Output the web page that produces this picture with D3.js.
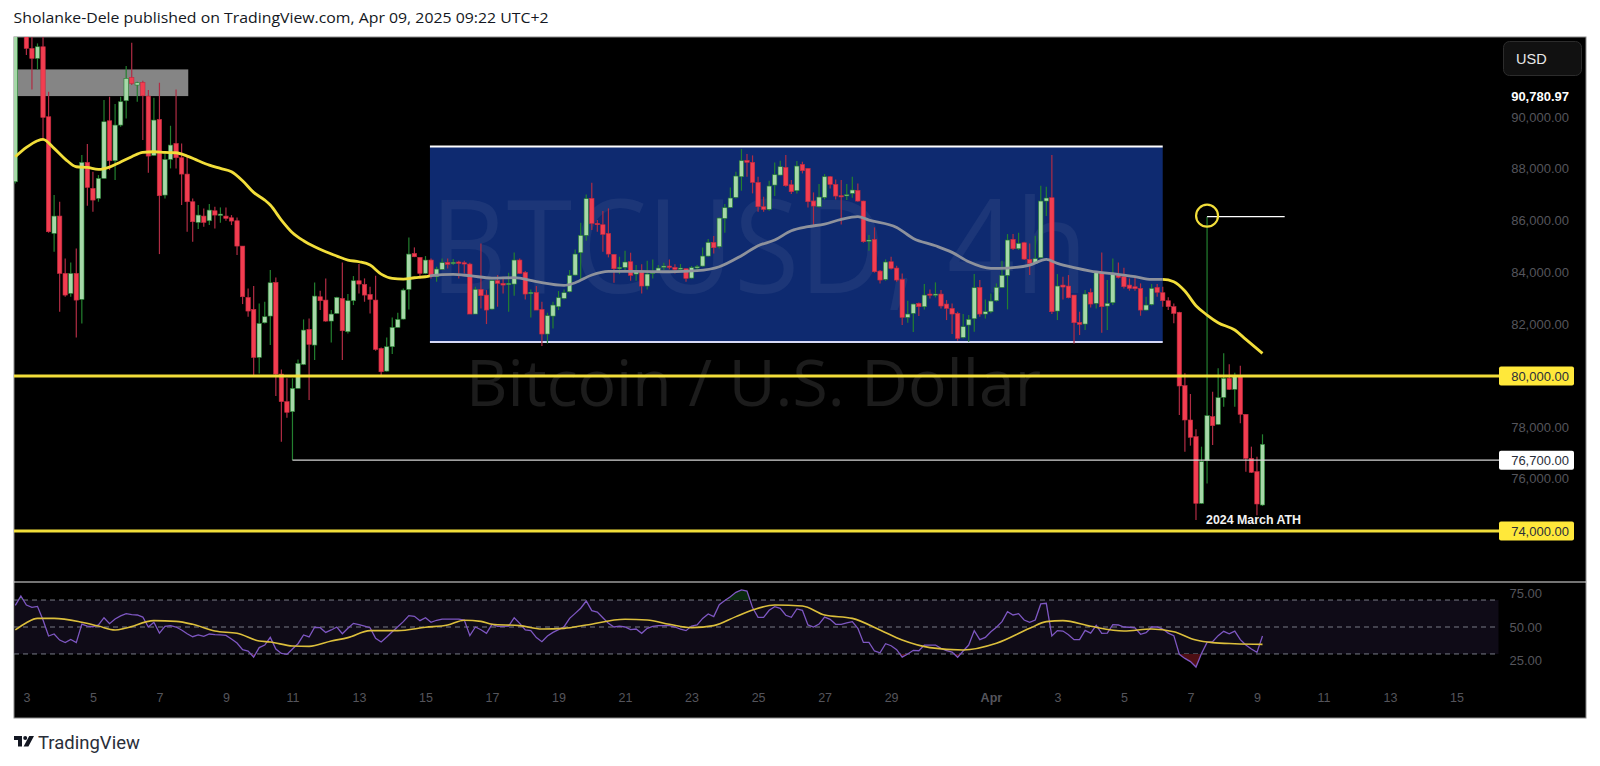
<!DOCTYPE html>
<html>
<head>
<meta charset="utf-8">
<title>BTCUSD 4h</title>
<script src="https://cdn.jsdelivr.net/npm/d3@7"></script>
<style>
  html, body { margin: 0; padding: 0; background: #fff; }
  svg { display: block; }
</style>
</head>
<body>
<div id="chart"></div>
<script>
// Candle values, 4h bars. The first bar is index -2.
const firstIndex = -2;
const opens = [
  87500,95000,94000,92648,92262,92712,90010,85505,86175,83961,
  83189,83961,82957,88247,87243,86857,87629,89855,88311,89688,
  90628,91528,91232,91335,90808,88517,89907,86985,88362,88980,
  88427,87796,86728,85930,86175,85994,86380,86200,86175,86110,
  85994,85016,83034,82571,80718,82056,82314,83614,80074,78994,
  78602,79516,80447,81799,81194,83060,82931,82121,82416,82996,
  81709,82906,83678,83536,83150,82931,81065,80190,81130,81876,
  82198,83343,84733,84580,83961,84477,83833,84116,84387,84348,
  84400,84374,84322,82392,83344,83125,82585,83679,83576,83537,
  83550,84477,84001,83190,83228,82572,81620,82314,82675,82997,
  83254,83898,84760,85429,86858,85892,85841,85506,84695,84142,
  84194,84412,83936,84052,83473,83962,84039,84219,84245,84194,
  84142,84142,83782,84194,84245,84631,85159,84992,86085,86510,
  86896,87694,88325,88248,87475,86536,86433,87372,87759,88055,
  87385,87154,88170,88016,86755,86536,86896,87694,87398,86961,
  86961,87051,87167,86755,85210,85275,84052,83730,84412,84168,
  83730,82263,82418,82804,82675,83164,83138,83164,82778,82611,
  82418,81491,81967,82212,83421,82392,82482,82907,83421,83885,
  85275,84914,85146,84502,84348,84567,86755,86883,82508,83511,
  83473,83125,82070,82006,83228,82804,83988,82701,82829,83923,
  83833,83511,83447,83383,82546,82765,83421,83216,82907,82676,
  82457,79621,78275,77621,75045,76680,78405,78105,79164,79909,
  79477,79974,78497,76772,76249,74981
];
const highs = [
  95500,96000,94500,94000,92841,93500,90975,86985,86728,84540,
  84386,84926,88530,88954,87886,87758,90653,90782,90499,90782,
  91966,92867,91361,91400,91039,90743,91323,88659,89662,91065,
  88980,88465,86857,86599,86470,86638,86535,86509,86509,86213,
  86123,85016,83382,83472,82803,82867,84090,83807,80255,79908,
  79908,80640,82185,82224,83614,83292,83768,82545,83060,84386,
  83163,83858,84321,83768,83446,83871,81104,81490,82262,82442,
  83382,85351,84965,84580,84630,84541,84219,84541,84541,84515,
  84451,84451,84374,83447,85120,83318,83730,83898,83833,83988,
  84773,84541,84052,83344,83473,82868,82443,82868,83280,83344,
  84091,84888,85918,87012,87463,86021,86369,86472,84708,84605,
  84837,84760,84284,84310,84451,84502,84284,84374,84502,84310,
  84322,84142,84245,84284,84966,85288,85403,86124,86639,87282,
  87887,88762,88569,88518,87694,86922,87540,88248,88312,88531,
  87565,88299,88273,88016,87089,87411,87797,87720,87591,87565,
  87411,87694,87437,86768,85442,85738,84091,84502,84605,84258,
  83962,82907,82804,82842,83550,83344,83615,83318,82932,82804,
  82482,82392,82353,83936,83705,82958,83190,83576,84451,85481,
  85481,85532,85185,85120,85416,87347,87308,88531,83936,83833,
  83898,83125,82482,83318,83383,84026,84773,83705,84541,84387,
  84181,83769,83833,83576,83061,83550,83550,83448,83036,82804,
  82483,80102,79294,77909,77229,86150,79386,80295,80874,80449,
  80127,80397,78497,77229,76837,77713
];
const lows = [
  87436,93500,92391,91065,91837,89173,85531,84797,82481,83060,
  83060,81490,82030,86574,86342,86728,87629,87951,87565,89624,
  89945,91232,90589,89109,87848,88491,84707,86857,88015,88015,
  86599,85570,85184,85673,85763,85827,85698,85917,85994,85827,
  84669,82777,82288,80036,80100,82030,81194,79215,77425,78366,
  76700,79516,80422,79059,80615,82545,82095,81297,82391,80615,
  81644,82738,83189,82867,82416,80975,79970,80164,80846,81876,
  82185,82571,84590,83768,83935,83769,83640,84091,84155,84284,
  83769,83962,82392,82392,82611,82006,82546,82675,83190,82482,
  83100,83936,82958,82263,82546,81156,81259,81838,82546,82958,
  83228,83872,83730,85223,85635,85571,84798,84580,83602,83936,
  84091,83679,83679,83190,83344,83769,83988,84091,84116,83962,
  84026,83640,83756,84091,84219,84605,84734,84927,85532,86484,
  86858,87154,87694,87051,86343,86343,86381,86948,87746,87308,
  87025,87051,87823,86510,85828,86510,86819,87244,86819,85854,
  86793,86883,86729,85146,84837,83988,83576,83679,84116,83640,
  81967,82057,81697,82314,82572,82997,83035,82611,82160,81620,
  81362,81452,81324,81710,82289,82224,82418,82868,83396,82572,
  84863,84863,84477,83898,84322,84541,86176,82392,82160,82958,
  82997,81259,81581,81774,82649,82611,81671,81774,82739,83769,
  83383,83293,83293,82327,82520,82726,83061,82676,82547,82032,
  78471,77033,77268,74415,75019,75791,77295,78080,78798,79450,
  78798,78144,76249,76197,74592,74943
];
const closes = [
  95000,94500,92648,92262,92712,89984,85570,86175,83961,83124,
  83961,82931,88247,87281,86792,87629,89817,88311,89688,90589,
  91490,91297,91323,90821,88491,89881,86960,88362,88916,88427,
  87796,86728,85956,86213,85930,86406,86213,86252,86085,85981,
  85016,83060,82507,80718,82030,82288,83600,80074,78994,78575,
  79516,80486,81773,81220,83086,82906,82121,82391,83034,81747,
  82906,83678,83549,83124,82957,81027,80164,81130,81876,82185,
  83317,84707,84604,83961,84476,83833,84129,84374,84310,84387,
  84348,84322,82392,83344,83100,82546,83679,83576,83511,83576,
  84477,83962,83164,83228,82546,81620,82327,82739,83022,83215,
  83885,84708,85429,86845,85892,85841,85468,84708,84142,84194,
  84400,83885,84026,83473,83936,84026,84168,84245,84194,84116,
  84168,83769,84181,84219,84631,85159,84953,86098,86497,86871,
  87720,88312,88248,87475,86536,86433,87334,87771,88080,87347,
  87115,88106,87926,86729,86562,86909,87694,87398,86948,86935,
  86999,87180,86755,85185,85249,84026,83705,84400,84155,83705,
  82263,82392,82778,82675,83125,83138,83164,82701,82611,82392,
  81452,81903,82186,83408,82392,82482,82894,83421,83885,85249,
  84914,85120,84515,84348,84528,86755,86871,82482,83473,83434,
  83022,82057,81993,83164,82778,83988,82675,82804,83962,83807,
  83447,83383,83370,82546,82739,83383,83228,82907,82676,82418,
  79608,78275,77595,75045,76641,78445,78053,79150,79909,79477,
  79974,78497,76772,76223,75019,77321
];

// 50 period moving average, read at the bars where it bends.
const maIndex = [-2,0,2,3,5,7,9,11,13,15,17,19,21,23,25,27,29,31,33,35,37,39,41,43,44,46,48,50,52,54,56,58,60,62,64,66,68,70,72,
  73,77,80,84,88,92,97,99,102,105,110,116,121,125,129,132,135,138,141,144,147,150,152,157,160,164,167,170,174,177,181,184,186,189,192,196,200,203,
  205,207,209,211,213,215,218,220,223];
const maValue = [88465,88826,89083,89135,88787,88375,88079,88054,87976,88067,88260,88465,88633,88659,88633,88620,88491,88311,88144,88015,87886,87539,87088,86792,86599,86020,85531,85222,84990,84797,84630,84476,84411,84283,83935,83768,83742,83794,83832,
  83872,83923,83872,83782,83795,83640,83499,83602,83898,84039,84039,84026,84065,84219,84644,85030,85249,85609,85764,85867,86047,86150,86021,85738,85313,85030,84773,84412,84155,84168,84284,84502,84348,84181,84052,83949,83833,83730,
  83731,83641,83280,82714,82354,82058,81775,81414,80874];

// RSI, one value per bar starting at the same first bar.
const rsiValue = [
  66,73,66.3,64.6,65.3,55.2,43.3,44.8,40.3,38.4,
  40.8,38.4,52.2,50.7,50.2,51.5,56.9,52.5,55.9,58.2,
  59.9,59.2,58.9,57.4,50,53.5,45.5,50.5,51,50,
  47.8,45,42.8,44.1,43.1,44.8,44.3,44.1,43.8,41.1,
  38.1,33.2,32.2,27.7,34.7,36.6,42.3,33.7,30.4,29.7,
  33.7,37.6,44.1,42.6,49.8,49.5,46,47.8,50,45,
  49,52.7,51.7,50.7,49.5,41.6,38.9,42.6,46.5,50.2,
  54,58.4,57.9,54.7,56.9,53.5,55,55.9,55.9,55.9,
  55.9,55.2,43.6,50,48,45.3,52,50.5,50.5,50.7,
  56.9,52.7,47.8,47.3,42.1,39.1,43.3,46,48,50.2,
  56.4,60.1,63.9,69.3,62.1,61.1,56.9,52.7,50,50.7,
  50,48,48.5,45.3,49,50.5,51,51,51,50,
  48.5,47.3,50.7,51.5,56.4,59.7,57.7,66.6,69.6,72.5,
  75.7,77.5,76.7,64.4,57.2,57.2,62.4,65.1,63.9,58.7,
  57.2,63.4,62.4,51.5,50,52.2,57.4,55.7,52,52,
  53,54,49,38.6,38.6,32.2,30.9,37.6,36.1,33.2,
  27.7,30,32.7,32.4,36.6,36.6,36.6,34.2,32.4,31.4,
  27.5,32.2,36.6,47.3,40.6,42.3,46.5,49.8,54,61.4,
  58.9,59.9,55.2,53.5,55.2,67.1,67.6,43.3,47.3,47,
  44.3,40.6,40.6,47.5,45.5,51.2,45.3,45.5,51.7,51.5,
  50,49.8,49.3,44.6,45.8,50,50,48.5,45.5,43.6,
  29.7,26.7,24.3,20.3,30.4,38.6,39.1,43.6,46.8,45,
  47,40.6,36.6,33.7,31.2,43.3
];
const rsiMaIndex = [-2,0,2,5,10,13,16,18,23,27,30,34,38,42,44,48,51,55,58,62,67,72,76,79,82,84,89,93,97,101,108,112,116,120,124,128,131,135,140,144,149,154,158,163,169,175,181,184,187,192,198,203,207,211,214,218,223];
const rsiMaValue = [47.8,53.2,56.4,56.4,53.5,50.7,47.8,49.3,54.7,54.2,52,47,45.3,39.6,38.9,35.9,35.6,39.6,42.1,47.3,47.3,49.8,51.5,55,54.2,52,51,48.5,49,51.5,55.7,55.2,52,49.5,51,57.7,62.6,66.3,65.6,58.9,56.4,47.8,40.3,34.7,32.9,37.9,49,54,54.7,50.5,47,48.5,46.5,40.3,38.4,37.6,37.1];

// Axis labels
const priceTicks = [90000,88000,86000,84000,82000,78000,76000];
const rsiTicks = [75,50,25];
const timeTicks = [0,12,24,36,48,60,72,84,96,108,120,132,144,156,174,186,198,210,222,234,246,258];
const timeLabels = ["3","5","7","9","11","13","15","17","19","21","23","25","27","29","Apr","3","5","7","9","11","13","15"];

// Drawn levels and zones
const supportLevels = [80000, 74000];
const lowLevel = { price: 76700, start: 48 };
const highLevel = { price: 86150, start: 213, end: 227 };
const blueBox = { start: 72.8, end: 205, top: 88860, bottom: 81311 };
const greyBox = { start: -1.7, end: 29.2, top: 91837, bottom: 90808 };
const lastPrice = 90780.97;

const width = 1600;
const height = 766;
const frameLeft = 14;
const frameRight = 1586;
const frameTop = 37;
const frameBottom = 718;
const paneSplit = 582;
const scaleEdge = 1498;

const candleColors = {
    upFill: "#a6d8a8", upLine: "#23802f",
    downFill: "#f23d50", downLine: "#c42a40", downWick: "#b02c44"
};
const levelYellow = "#f2de3a";

const x = d3.scaleLinear().domain([0, 258]).range([26.4, 1456.5]);
const y = d3.scaleLinear().domain([90000, 80000, 76000, 74000]).range([117, 376, 478, 531]);
const yRsi = d3.scaleLinear().domain([75, 25]).range([593.3, 660.7]);
const fmtPrice = d3.format(",.2f");

const candles = opens.map((o, k) => ({
    i: firstIndex + k, open: o, high: highs[k], low: lows[k], close: closes[k]
}));

const svg = d3.select("#chart").append("svg")
    .attr("width", width)
    .attr("height", height)
    .style("font-family", "'Liberation Sans', sans-serif");

// Publisher line on the white page
svg.append("text")
    .attr("x", 13.5).attr("y", 23)
    .attr("font-family", "'Open Sans', sans-serif")
    .attr("font-size", 15)
    .attr("textLength", 535).attr("lengthAdjust", "spacingAndGlyphs")
    .attr("fill", "#131722")
    .text("Sholanke-Dele published on TradingView.com, Apr 09, 2025 09:22 UTC+2");

// Black chart frame
svg.append("rect")
    .attr("x", frameLeft).attr("y", frameTop)
    .attr("width", frameRight - frameLeft).attr("height", frameBottom - frameTop)
    .attr("fill", "#000").attr("stroke", "#8a8a8a");

const defs = svg.append("defs");
defs.append("clipPath").attr("id", "mainClip").append("rect")
    .attr("x", frameLeft).attr("y", frameTop)
    .attr("width", frameRight - frameLeft).attr("height", paneSplit - frameTop);
defs.append("clipPath").attr("id", "insideBox").append("rect")
    .attr("x", x(blueBox.start)).attr("y", frameTop)
    .attr("width", x(blueBox.end) - x(blueBox.start)).attr("height", paneSplit - frameTop);
const outside = defs.append("clipPath").attr("id", "outsideBox");
outside.append("rect")
    .attr("x", frameLeft).attr("y", frameTop)
    .attr("width", x(blueBox.start) - frameLeft).attr("height", paneSplit - frameTop);
outside.append("rect")
    .attr("x", x(blueBox.end)).attr("y", frameTop)
    .attr("width", frameRight - x(blueBox.end)).attr("height", paneSplit - frameTop);
defs.append("clipPath").attr("id", "paneClip").append("rect")
    .attr("x", frameLeft).attr("width", frameRight - frameLeft)
    .attr("y", paneSplit).attr("height", frameBottom - paneSplit);
defs.append("clipPath").attr("id", "overClip").append("rect")
    .attr("x", frameLeft).attr("width", frameRight - frameLeft)
    .attr("y", yRsi(75) - 30).attr("height", yRsi(70) - yRsi(75) + 30);
defs.append("clipPath").attr("id", "underClip").append("rect")
    .attr("x", frameLeft).attr("width", frameRight - frameLeft)
    .attr("y", yRsi(30)).attr("height", 40);

const main = svg.append("g").attr("clip-path", "url(#mainClip)");

// Blue range box with white edges
main.append("rect")
    .attr("x", x(blueBox.start)).attr("y", y(blueBox.top))
    .attr("width", x(blueBox.end) - x(blueBox.start))
    .attr("height", y(blueBox.bottom) - y(blueBox.top))
    .attr("fill", "#0e2a70");
main.selectAll("line.boxEdge")
    .data([blueBox.top, blueBox.bottom])
    .enter().append("line")
    .attr("class", "boxEdge")
    .attr("x1", x(blueBox.start)).attr("x2", x(blueBox.end))
    .attr("y1", d => y(d)).attr("y2", d => y(d))
    .attr("stroke", (d, k) => k === 0 ? "#fff" : "#d5d8f5")
    .attr("stroke-width", 2);

// Grey supply zone top left
main.append("rect")
    .attr("x", x(greyBox.start)).attr("y", y(greyBox.top))
    .attr("width", x(greyBox.end) - x(greyBox.start))
    .attr("height", y(greyBox.bottom) - y(greyBox.top))
    .attr("fill", "#858585");

// Watermark
main.append("text")
    .attr("x", 430).attr("y", 293)
    .attr("font-family", "'Open Sans', sans-serif")
    .attr("font-size", 130)
    .attr("textLength", 658).attr("lengthAdjust", "spacingAndGlyphs")
    .attr("fill", "rgba(255,255,255,0.06)")
    .text("BTCUSD, 4h");
main.append("text")
    .attr("x", 466).attr("y", 406)
    .attr("font-family", "'Open Sans', sans-serif")
    .attr("font-size", 64)
    .attr("textLength", 575).attr("lengthAdjust", "spacingAndGlyphs")
    .attr("fill", "rgba(255,255,255,0.11)")
    .text("Bitcoin / U.S. Dollar");

// Candles
const candle = main.selectAll("g.candle")
    .data(candles)
    .enter().append("g")
    .attr("class", "candle");
candle.append("line")
    .attr("x1", d => x(d.i)).attr("x2", d => x(d.i))
    .attr("y1", d => y(d.high)).attr("y2", d => y(d.low))
    .attr("stroke", d => d.close >= d.open ? candleColors.upLine : candleColors.downWick)
    .attr("stroke-width", 1.2);
candle.append("rect")
    .attr("x", d => x(d.i) - 2.2)
    .attr("width", 4.4)
    .attr("y", d => y(Math.max(d.open, d.close)))
    .attr("height", d => Math.max(1.2, Math.abs(y(d.open) - y(d.close))))
    .attr("fill", d => d.close >= d.open ? candleColors.upFill : candleColors.downFill)
    .attr("stroke", d => d.close >= d.open ? candleColors.upLine : candleColors.downLine)
    .attr("stroke-width", 0.6);

// Moving average: yellow outside the box, grey through it
const maLine = d3.line()
    .x((d, k) => x(maIndex[k]))
    .y(d => y(d))
    .curve(d3.curveMonotoneX);
main.append("path").datum(maValue)
    .attr("d", maLine).attr("fill", "none")
    .attr("stroke", levelYellow).attr("stroke-width", 2.8)
    .attr("clip-path", "url(#outsideBox)");
main.append("path").datum(maValue)
    .attr("d", maLine).attr("fill", "none")
    .attr("stroke", "#8e929c").attr("stroke-width", 2.8)
    .attr("clip-path", "url(#insideBox)");

// Horizontal levels
main.selectAll("line.support")
    .data(supportLevels)
    .enter().append("line")
    .attr("class", "support")
    .attr("x1", frameLeft).attr("x2", 1499)
    .attr("y1", d => y(d)).attr("y2", d => y(d))
    .attr("stroke", levelYellow).attr("stroke-width", 2.8);
main.append("line")
    .attr("x1", x(lowLevel.start)).attr("x2", 1499)
    .attr("y1", y(lowLevel.price)).attr("y2", y(lowLevel.price))
    .attr("stroke", "#d4d4d4").attr("stroke-width", 1.2);
main.append("line")
    .attr("x1", x(highLevel.start)).attr("x2", x(highLevel.end))
    .attr("y1", y(highLevel.price)).attr("y2", y(highLevel.price))
    .attr("stroke", "#fff").attr("stroke-width", 1.2);
main.append("circle")
    .attr("cx", x(highLevel.start)).attr("cy", y(highLevel.price) - 1)
    .attr("r", 11)
    .attr("fill", "none").attr("stroke", levelYellow).attr("stroke-width", 2.2);
main.append("text")
    .attr("x", 1206).attr("y", 524)
    .attr("font-size", 12.5).attr("font-weight", 700)
    .attr("textLength", 95).attr("lengthAdjust", "spacingAndGlyphs")
    .attr("fill", "#f2f2f2")
    .text("2024 March ATH");

// Price axis
const yAxis = svg.append("g")
    .attr("transform", "translate(1569,0)")
    .call(d3.axisRight(y).tickValues(priceTicks).tickFormat(fmtPrice).tickSize(0).tickPadding(0));
yAxis.select(".domain").remove();
yAxis.selectAll("text")
    .attr("text-anchor", "end")
    .attr("font-size", 13)
    .attr("font-family", "'Liberation Sans', sans-serif")
    .attr("fill", "#55555c");

// Level tags on the price axis
const tags = [
    { price: 80000, fill: "#ffe83a" },
    { price: 76700, fill: "#ffffff" },
    { price: 74000, fill: "#ffe83a" }
];
const tag = svg.selectAll("g.tag").data(tags).enter().append("g").attr("class", "tag");
tag.append("rect")
    .attr("x", 1499).attr("width", 75)
    .attr("y", d => y(d.price) - 9.5).attr("height", 19)
    .attr("rx", 2)
    .attr("fill", d => d.fill);
tag.append("text")
    .attr("x", 1569).attr("y", d => y(d.price) + 4.5)
    .attr("text-anchor", "end")
    .attr("font-size", 13)
    .attr("fill", "#2a2e39")
    .text(d => fmtPrice(d.price));

// Currency button and last price
svg.append("rect")
    .attr("x", 1503.5).attr("y", 41.5).attr("width", 78).attr("height", 34)
    .attr("rx", 6)
    .attr("fill", "#111").attr("stroke", "#2c2c2c");
svg.append("text")
    .attr("x", 1516).attr("y", 63.5)
    .attr("font-size", 14.5)
    .attr("fill", "#e8e8e8")
    .text("USD");
svg.append("text")
    .attr("x", 1569).attr("y", y(lastPrice) + 4.5)
    .attr("text-anchor", "end")
    .attr("font-size", 13).attr("font-weight", 700)
    .attr("fill", "#fff")
    .text(fmtPrice(lastPrice));

// Split between the panes
svg.append("line")
    .attr("x1", frameLeft).attr("x2", frameRight)
    .attr("y1", paneSplit).attr("y2", paneSplit)
    .attr("stroke", "#e8e8e8");

// RSI pane
svg.append("rect")
    .attr("x", frameLeft + 0.5).attr("width", scaleEdge - frameLeft)
    .attr("y", yRsi(70)).attr("height", yRsi(30) - yRsi(70))
    .attr("fill", "#0f0b17");
svg.selectAll("line.rsiGuide")
    .data([70, 50, 30])
    .enter().append("line")
    .attr("class", "rsiGuide")
    .attr("x1", frameLeft).attr("x2", scaleEdge)
    .attr("y1", d => yRsi(d)).attr("y2", d => yRsi(d))
    .attr("stroke", "#787b86")
    .attr("stroke-dasharray", "5 4");

// Overbought and oversold fill
const rsiPoints = rsiValue.map((v, k) => ({ i: firstIndex + k, v: v }));
svg.append("path").datum(rsiPoints)
    .attr("d", d3.area().x(d => x(d.i)).y0(yRsi(70)).y1(d => yRsi(d.v)))
    .attr("fill", "#0a2a10").attr("clip-path", "url(#overClip)");
svg.append("path").datum(rsiPoints)
    .attr("d", d3.area().x(d => x(d.i)).y0(yRsi(30)).y1(d => yRsi(d.v)))
    .attr("fill", "#4e0f14").attr("clip-path", "url(#underClip)");

svg.append("path").datum(rsiPoints)
    .attr("d", d3.line().x(d => x(d.i)).y(d => yRsi(d.v)))
    .attr("fill", "none").attr("stroke", "#7e57c2").attr("stroke-width", 1.3)
    .attr("clip-path", "url(#paneClip)");
svg.append("path").datum(rsiMaValue)
    .attr("d", d3.line()
        .x((d, k) => x(rsiMaIndex[k]))
        .y(d => yRsi(d))
        .curve(d3.curveMonotoneX))
    .attr("fill", "none").attr("stroke", "#dcbf3c").attr("stroke-width", 1.6)
    .attr("clip-path", "url(#paneClip)");

const rsiAxis = svg.append("g")
    .attr("transform", "translate(1542,0)")
    .call(d3.axisRight(yRsi).tickValues(rsiTicks).tickFormat(d3.format(".2f")).tickSize(0).tickPadding(0));
rsiAxis.select(".domain").remove();
rsiAxis.selectAll("text")
    .attr("text-anchor", "end")
    .attr("font-size", 13)
    .attr("font-family", "'Liberation Sans', sans-serif")
    .attr("fill", "#55555c");

// Time axis
const xAxis = svg.append("g")
    .attr("transform", "translate(0,693)")
    .call(d3.axisBottom(x).tickValues(timeTicks)
        .tickFormat((d, k) => timeLabels[k]).tickSize(0).tickPadding(0));
xAxis.select(".domain").remove();
xAxis.selectAll("text")
    .attr("font-size", 12.5)
    .attr("font-family", "'Liberation Sans', sans-serif")
    .attr("font-weight", d => d === 174 ? 700 : 400)
    .attr("fill", "#55555c");

// TradingView mark at the bottom
const logo = svg.append("g").attr("transform", "translate(14,736) scale(0.8)").attr("fill", "#131722");
logo.append("path").attr("d", "M0 0 H10 V13 H5 V5 H0 Z");
logo.append("circle").attr("cx", 14).attr("cy", 2.5).attr("r", 2.5);
logo.append("path").attr("d", "M19 0 H25 L18 13 H12 Z");
svg.append("text")
    .attr("x", 38).attr("y", 749)
    .attr("font-family", "Roboto, sans-serif")
    .attr("font-size", 18.5)
    .attr("fill", "#2a2e39")
    .text("TradingView");
</script>
</body>
</html>
